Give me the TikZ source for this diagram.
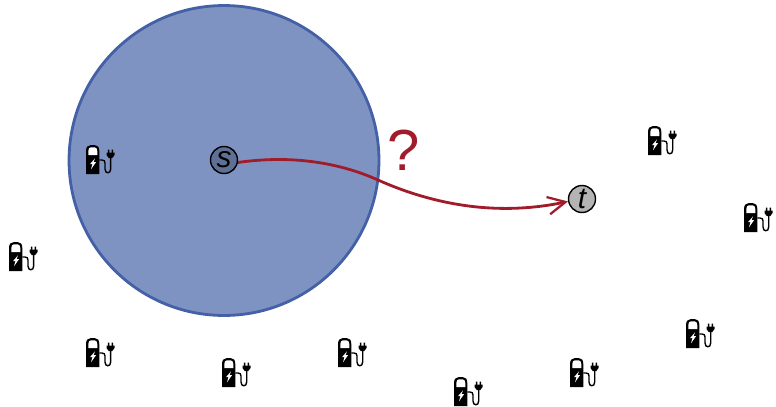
\documentclass[tikz,border=0pt]{standalone}
\usepackage{fontspec}
\setmainfont{Liberation Sans}
\usepackage{xcolor}
\usetikzlibrary{arrows.meta,positioning,calc}
\definecolor{zoneblue}{HTML}{7F93C3}
\definecolor{zoneedge}{HTML}{4460A6}
\definecolor{routered}{HTML}{A01C2A}
\definecolor{sourcefill}{HTML}{5F7096}
\definecolor{targetfill}{HTML}{B4B4B4}

\begin{document}
\begin{tikzpicture}[
    x=0.02cm,y=-0.02cm,
    zone/.style   = {circle,draw=zoneedge,fill=zoneblue,line width=1.6pt,
                     minimum size=6.2cm,inner sep=0pt},
    endpoint/.style = {circle,draw=black,line width=0.8pt,minimum size=0.54cm,
                     inner sep=0pt,font=\fontsize{17}{17}\selectfont\itshape},
    route/.style  = {routered,line width=1.6pt,-{Straight Barb[length=10pt,width=10pt,line width=1.3pt]}},
    query/.style  = {text=routered,font=\fontsize{33}{33}\selectfont,inner sep=0pt},
    station/.pic  = {
      \fill[black] (-14,14) -- (-14,-9) .. controls (-14,-13) and (-12,-15) .. (-9,-15)
        -- (-5.5,-15) .. controls (-2.5,-15) and (-0.7,-13) .. (-0.7,-9) -- (-0.7,14) -- cycle;
      \fill[white] (-11.7,-5) -- (-11.7,-9) .. controls (-11.7,-11.5) and (-10.5,-12.7) .. (-9,-12.7)
        -- (-5.5,-12.7) .. controls (-4,-12.7) and (-2.7,-11.5) .. (-2.7,-9) -- (-2.7,-5) -- cycle;
      \fill[white] (-5,-1.7) -- (-10,4.2) -- (-7.6,4.2) -- (-9,9.3) -- (-4,2.2) -- (-6.5,2.2) -- cycle;
      \draw[black,line width=0.8pt] (-0.7,0) -- (2,0)
        .. controls (4,0) and (5,1) .. (5,3) -- (5,9)
        .. controls (5,14) and (10.7,14) .. (10.7,9) -- (10.7,-4);
      \fill[black] (6.5,-7.3) -- (14.5,-7.3) -- (14.5,-5) -- (12.3,-2) -- (8.7,-2) -- (6.5,-5) -- cycle;
      \fill[black] (7.9,-10.3) rectangle (9.3,-7) (11.7,-10.3) rectangle (13.1,-7);
    },
  ]
  \useasboundingbox (0,0) rectangle (776,406);

  % zone around the source
  \node[zone] (range) at (224,160.5) {};

  % charging stations
  \foreach \px/\py in {100/160,23/257,100/353,236/373,352/353,468/392,584/373,700/334,662/141,758/218}
    \pic at (\px,\py) {station};

  % source and target
  \node[endpoint,fill=sourcefill] (src) at (224,160) {s};
  \node[endpoint,fill=targetfill] (dst) at (582,199) {t};

  \coordinate (bend) at (378,180);
  \draw[route] (src.-10) .. controls (290,155) and (338,162) .. (bend)
    .. controls (425,201) and (490,218) .. (dst.190);
  \node[query] (ask) at (404,150) {?};
\end{tikzpicture}
\end{document}
